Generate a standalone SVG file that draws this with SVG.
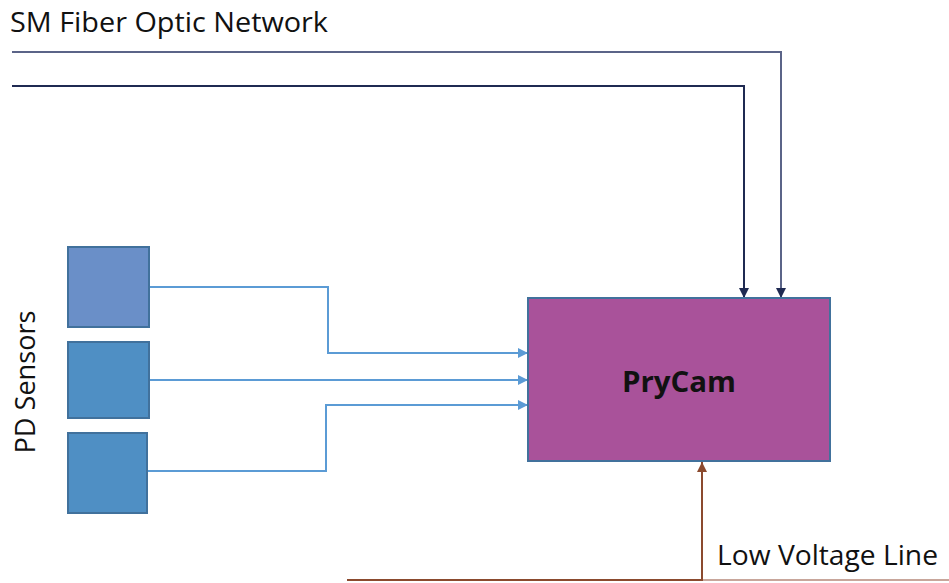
<svg xmlns="http://www.w3.org/2000/svg" width="949" height="583" viewBox="0 0 949 583">
<style>
text{font-family:"Open Sans","Noto Sans","Liberation Sans",sans-serif;fill:#111;}
.lbl{font-size:27px;}
.sensor{stroke:#41719C;stroke-width:2;}
.blue{fill:none;stroke:#5B9BD5;stroke-width:2;}
.fiber1{fill:none;stroke:#5B6488;stroke-width:2;}
.fiber2{fill:none;stroke:#1F2A52;stroke-width:2;}
.lv{fill:none;stroke:#8B4A2E;stroke-width:2;}
</style>
<defs>
<marker id="ab" markerWidth="10" markerHeight="10" refX="10" refY="5" orient="auto" markerUnits="userSpaceOnUse"><path d="M0,0 L10,5 L0,10 z" fill="#5B9BD5"/></marker>
<marker id="an" markerWidth="10" markerHeight="10" refX="10" refY="5" orient="auto" markerUnits="userSpaceOnUse"><path d="M0,0 L10,5 L0,10 z" fill="#1F2A52"/></marker>
<marker id="abr" markerWidth="10" markerHeight="10" refX="10" refY="5" orient="auto" markerUnits="userSpaceOnUse"><path d="M0,0 L10,5 L0,10 z" fill="#8B4A2E"/></marker>
</defs>
<rect width="949" height="583" fill="#fff"/>
<g id="connectors">
<polyline class="fiber1" points="12,52 781,52 781,298" marker-end="url(#an)"/>
<polyline class="fiber2" points="12,86 744,86 744,298" marker-end="url(#an)"/>
<polyline class="blue" points="149,287 328,287 328,353 528,353" marker-end="url(#ab)"/>
<polyline class="blue" points="149,380 528,380" marker-end="url(#ab)"/>
<polyline class="blue" points="147,471 326,471 326,405 528,405" marker-end="url(#ab)"/>
<line x1="702" y1="580" x2="949" y2="580" stroke="#C8A69B" stroke-width="2"/>
<polyline class="lv" points="347,580 702,580 702,462" marker-end="url(#abr)"/>
</g>
<g id="title"><text class="lbl" x="10" y="32" textLength="318" lengthAdjust="spacingAndGlyphs">SM Fiber Optic Network</text></g>
<g id="sensor1"><rect class="sensor" x="68" y="247" width="81" height="80" fill="#6A8FC8"/></g>
<g id="sensor2"><rect class="sensor" x="68" y="342" width="81" height="76" fill="#4F8FC4"/></g>
<g id="sensor3"><rect class="sensor" x="68" y="433" width="79" height="80" fill="#4F8FC4"/></g>
<g id="pd-label"><text class="lbl" transform="translate(35,382) rotate(-90)" text-anchor="middle" textLength="143" lengthAdjust="spacingAndGlyphs">PD Sensors</text></g>
<g id="prycam">
<rect x="528" y="298" width="302" height="163" fill="#A9529A" stroke="#41719C" stroke-width="2"/>
<text x="679" y="392" text-anchor="middle" font-size="28" font-weight="bold" textLength="114" lengthAdjust="spacingAndGlyphs">PryCam</text>
</g>
<g id="lv-label"><text class="lbl" x="717" y="565" textLength="221" lengthAdjust="spacingAndGlyphs">Low Voltage Line</text></g>
</svg>
